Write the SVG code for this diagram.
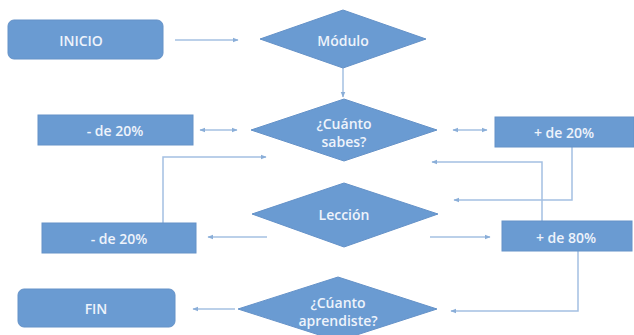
<svg xmlns="http://www.w3.org/2000/svg" width="634" height="335" viewBox="0 0 634 335">
<style>
.n{fill:#6a9bd2;stroke:#6592c8;stroke-width:1}
.t{fill:#eef3fb;font-family:"Open Sans","Liberation Sans",sans-serif;font-size:14px;font-weight:600;text-anchor:middle;dominant-baseline:central}
.c{fill:none;stroke:#a4c0e2;stroke-width:1.5}
</style>
<defs>
<marker id="ah" viewBox="0 0 10 10" refX="9" refY="5" markerWidth="6" markerHeight="6" markerUnits="userSpaceOnUse" orient="auto-start-reverse">
<path d="M0,1 L10,5 L0,9 z" fill="#8aaed8"/>
</marker>
</defs>
<rect width="634" height="335" fill="#ffffff"/>
<g id="connectors">
<path class="c" d="M175,40 H238" marker-end="url(#ah)"/>
<path class="c" d="M343,68 V97" marker-end="url(#ah)"/>
<path class="c" d="M200,130 H237" marker-start="url(#ah)" marker-end="url(#ah)"/>
<path class="c" d="M453,130 H487" marker-start="url(#ah)" marker-end="url(#ah)"/>
<path class="c" d="M163,223 V157 H266" marker-end="url(#ah)"/>
<path class="c" d="M542,221 V162 H432" marker-end="url(#ah)"/>
<path class="c" d="M572,147 V200 H454" marker-end="url(#ah)"/>
<path class="c" d="M267,237 H208" marker-end="url(#ah)"/>
<path class="c" d="M430,237 H490" marker-end="url(#ah)"/>
<path class="c" d="M578,251 V311 H451" marker-end="url(#ah)"/>
<path class="c" d="M235,309 H193" marker-end="url(#ah)"/>
</g>
<g id="inicio">
<rect class="n" x="8" y="20" width="155" height="39" rx="6"/>
<text class="t" x="81" y="40">INICIO</text>
</g>
<g id="modulo">
<polygon class="n" points="260,39 343,10 426,39 343,68"/>
<text class="t" x="343" y="40">Módulo</text>
</g>
<g id="cuanto-sabes">
<polygon class="n" points="251,130 344,99 437,130 344,161"/>
<text class="t" x="344" y="123">¿Cuánto</text>
<text class="t" x="344" y="141">sabes?</text>
</g>
<g id="menos20a">
<rect class="n" x="38" y="115" width="155" height="30"/>
<text class="t" x="115" y="130">- de 20%</text>
</g>
<g id="mas20">
<rect class="n" x="495" y="117" width="139" height="30"/>
<text class="t" x="564" y="132">+ de 20%</text>
</g>
<g id="leccion">
<polygon class="n" points="252,214 344,183 438,214 344,247"/>
<text class="t" x="344" y="214">Lección</text>
</g>
<g id="menos20b">
<rect class="n" x="42" y="223" width="154" height="30"/>
<text class="t" x="119" y="238">- de 20%</text>
</g>
<g id="mas80">
<rect class="n" x="502" y="221" width="130" height="30"/>
<text class="t" x="566" y="237">+ de 80%</text>
</g>
<g id="cuanto-aprendiste">
<polygon class="n" points="238,309 338,277 437,309 338,341"/>
<text class="t" x="338" y="302">¿Cúanto</text>
<text class="t" x="338" y="320">aprendiste?</text>
</g>
<g id="fin">
<rect class="n" x="18" y="289" width="157" height="38" rx="6"/>
<text class="t" x="96" y="308">FIN</text>
</g>
</svg>
